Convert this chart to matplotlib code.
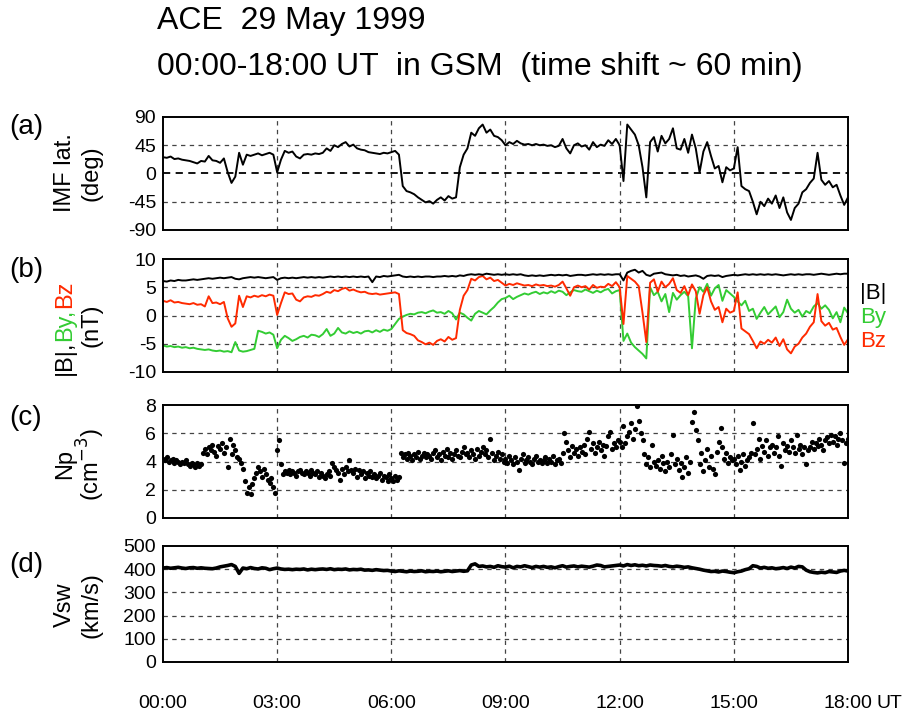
import numpy as np
import matplotlib
matplotlib.use("Agg")
import matplotlib.pyplot as plt
from matplotlib import font_manager

# ---------------- data ----------------
# 0.1 h grid, 00:00 - 18:00 UT
imf_lat = [26,25,27,23,24,22,21,20,18,16,
           20,19,28,21,20,17,24,2,-15,-5,
           33,14,30,28,30,32,29,31,33,30,
           2,22,36,33,35,27,24,30,31,30,
           32,31,33,40,36,45,42,47,50,43,
           46,40,38,37,34,33,32,31,33,32,
           34,36,30,-20,-28,-30,-33,-38,-42,-46,
           -44,-48,-42,-38,-43,-36,-40,-38,10,30,
           40,65,60,72,78,65,70,60,58,53,
           45,50,47,52,48,46,47,45,47,45,
           46,44,45,42,44,55,40,32,45,48,
           43,45,38,50,42,46,44,53,47,55,
           45,-12,78,70,62,45,10,-38,50,58,
           35,60,48,55,72,40,38,55,33,62,
           40,2,35,50,28,8,12,-14,10,5,
           8,42,-20,-25,-28,-45,-65,-45,-52,-40,
           -48,-35,-55,-38,-62,-74,-55,-48,-30,-25,
           -15,-8,33,-10,-18,-12,-22,-18,-35,-50,
           -38]

b_mag = [6.1,6.0,6.2,6.1,6.3,6.2,6.2,6.3,6.4,6.3,
         6.4,6.5,6.6,6.5,6.6,6.7,6.6,6.7,6.8,6.5,
         6.4,6.6,6.7,6.8,6.7,6.8,6.7,6.6,6.7,6.8,
         6.3,6.6,6.7,6.6,6.7,6.6,6.7,6.8,6.7,6.8,
         6.7,6.8,6.7,6.8,6.9,6.8,6.9,6.8,6.9,6.8,
         6.9,6.8,6.9,6.8,6.9,5.9,6.9,6.8,7.0,6.9,
         7.0,7.1,7.2,6.9,6.8,6.9,6.8,6.9,6.8,6.9,
         6.9,6.8,6.9,6.9,7.0,6.9,7.0,6.9,7.1,7.0,
         7.2,7.3,7.2,7.3,7.2,7.4,7.3,7.2,7.3,7.2,
         7.3,7.2,7.3,7.2,7.3,7.1,7.0,7.1,7.0,7.1,
         7.0,7.1,7.2,7.1,7.2,7.1,7.2,7.0,7.1,7.2,
         7.2,7.1,7.2,7.3,7.2,7.3,7.2,7.3,7.2,7.3,
         7.3,6.2,7.6,7.9,8.1,7.6,7.9,7.2,7.0,7.4,
         7.5,7.6,7.3,7.2,7.1,7.2,7.0,7.1,6.9,7.0,
         7.1,6.9,6.5,7.0,7.1,7.0,7.1,6.8,7.0,7.1,
         7.2,7.1,7.2,7.3,7.2,7.3,7.2,7.3,7.2,7.3,
         7.2,7.3,7.2,7.1,7.2,7.3,7.2,7.3,7.2,7.3,
         7.3,7.2,7.3,7.4,7.3,7.2,7.3,7.4,7.3,7.4,
         7.4]

b_y = [-5.3,-5.5,-5.4,-5.6,-5.5,-5.7,-5.6,-5.8,-5.7,-5.9,
       -6.0,-6.1,-6.0,-6.2,-6.3,-6.2,-6.4,-6.3,-6.5,-4.7,
       -6.2,-6.4,-6.3,-6.1,-5.9,-2.7,-2.9,-3.2,-3.0,-3.4,
       -5.8,-4.3,-3.6,-4.0,-4.5,-4.2,-3.8,-3.6,-3.9,-3.4,
       -3.5,-3.8,-3.3,-2.4,-3.6,-3.2,-2.2,-3.0,-3.2,-2.8,
       -3.1,-2.9,-3.2,-2.8,-2.7,-3.0,-2.6,-2.9,-2.5,-2.7,
       -2.4,-1.5,-0.6,-0.2,0.1,0.3,0.2,0.5,0.6,0.4,
       0.7,0.9,0.5,0.6,0.3,0.8,0.4,-0.7,0.5,0.2,
       -0.4,-0.9,0.3,0.8,0.5,0.2,0.9,1.5,2.3,2.9,
       3.1,3.5,2.9,3.3,3.6,3.9,3.7,4.0,4.2,3.8,
       4.1,3.9,4.3,4.0,4.4,4.2,3.6,4.1,4.5,4.3,
       4.2,4.6,4.3,4.0,4.4,4.1,4.5,4.7,3.9,4.3,
       4.5,-4.5,-3.2,-4.8,-5.6,-6.2,-6.8,-7.6,5.0,3.6,
       4.2,2.5,3.8,0.6,4.0,2.8,3.6,4.2,3.4,-5.8,
       3.0,5.0,4.2,5.6,3.5,4.8,5.4,2.6,4.5,3.9,
       3.3,2.5,1.8,2.6,0.8,1.2,-0.6,0.5,1.5,0.2,
       0.9,1.6,-0.3,0.6,2.8,1.2,0.5,1.0,-0.2,0.8,
       0.4,1.6,2.2,1.2,1.8,1.0,-0.5,0.6,-1.2,1.4,
       0.4]

b_z = [2.6,2.4,2.7,2.3,2.4,2.2,2.1,2.0,2.2,1.9,
       2.0,1.6,3.4,2.2,2.3,2.0,2.4,-0.5,-2.0,-1.4,
       3.5,1.5,3.4,3.2,3.5,3.3,3.6,3.4,3.7,3.5,
       0.1,2.2,4.1,3.8,3.9,2.8,2.5,3.2,3.4,3.3,
       3.6,3.5,3.8,4.2,4.0,4.5,4.3,4.7,4.9,4.4,
       4.6,4.3,4.1,4.2,3.9,3.8,3.9,3.7,3.8,3.9,
       4.0,4.1,3.8,-2.6,-3.1,-3.3,-3.6,-4.4,-4.7,-5.1,
       -4.8,-5.2,-4.5,-4.2,-4.6,-3.8,-4.3,-4.0,1.0,3.5,
       4.5,6.5,6.2,6.8,7.0,6.4,6.7,6.1,6.3,5.8,
       5.3,5.6,5.4,5.7,5.5,5.3,5.4,5.2,5.5,5.3,
       5.4,5.2,5.3,5.1,5.4,6.0,4.8,3.5,5.0,5.3,
       5.0,5.2,4.6,5.4,4.9,5.1,5.0,5.6,5.2,5.9,
       5.0,-1.5,7.0,6.5,6.0,5.2,0.5,-4.7,5.8,6.4,
       4.2,6.0,5.0,5.6,6.6,4.5,4.0,5.2,3.6,5.5,
       4.3,0.3,3.6,5.0,2.5,1.0,1.5,-1.2,1.2,0.5,
       0.8,4.1,-2.3,-2.8,-3.3,-4.5,-5.8,-4.6,-5.0,-4.3,
       -4.8,-3.9,-5.4,-4.2,-6.0,-6.7,-5.5,-5.0,-3.9,-3.2,
       -2.0,-1.2,3.8,-1.0,-1.8,-1.3,-2.5,-2.2,-3.8,-5.2,
       -4.2]

# 0.05 h grid
n_p = [4.2,4.1,4.3,4.0,4.1,4.2,3.9,4.1,4.0,3.8,4.0,3.9,4.1,3.8,3.7,3.9,3.8,3.6,3.9,3.7,
       3.8,4.6,4.9,4.5,5.0,4.8,5.2,4.7,4.4,5.1,4.9,5.3,4.6,5.0,3.6,5.6,4.5,5.2,4.8,4.3,
       4.2,3.9,3.5,2.6,1.8,2.2,1.7,2.4,2.8,3.2,3.6,3.3,2.9,3.5,3.1,2.7,2.5,2.8,2.2,1.8,
       4.8,5.5,3.8,3.1,3.3,3.2,3.4,3.1,3.3,3.2,3.0,3.3,3.4,3.2,3.1,3.3,3.2,3.0,3.4,3.2,
       3.1,3.3,2.9,3.2,3.0,2.8,3.1,3.3,3.0,3.9,3.6,3.4,3.2,2.7,3.5,3.1,3.6,3.3,4.1,3.4,
       3.2,3.5,2.9,3.4,3.1,3.3,2.8,3.2,3.0,3.3,2.9,3.1,2.8,3.0,3.2,2.7,3.0,2.9,2.6,3.1,
       2.8,2.6,3.0,2.7,2.9,4.6,4.3,4.5,4.2,4.6,4.4,4.1,4.5,4.3,4.7,4.2,4.4,4.6,4.3,4.5,
       4.4,4.2,4.6,4.8,4.3,4.5,4.1,4.7,4.4,4.9,4.3,4.6,4.2,4.5,4.8,4.4,4.3,4.7,5.0,4.5,
       4.6,4.3,4.8,4.5,4.2,4.9,4.4,4.7,5.0,4.5,4.8,4.3,5.6,4.6,4.1,4.4,4.7,4.2,4.5,4.0,
       4.2,3.9,4.4,4.1,3.8,4.3,4.0,3.4,4.2,4.5,3.9,4.1,4.3,4.0,3.8,4.2,4.4,4.0,4.1,3.9,
       4.1,4.3,3.9,4.2,4.0,4.4,3.8,4.1,4.2,3.9,4.6,6.0,5.4,4.8,4.3,5.1,4.6,4.9,4.4,5.0,
       4.7,5.2,4.5,5.6,6.1,4.9,5.3,4.6,5.0,5.4,4.8,5.2,4.4,5.1,5.8,6.1,4.9,5.3,5.0,5.5,
       5.4,5.0,6.5,5.3,5.8,6.1,6.7,5.6,6.3,7.9,6.9,6.0,5.5,4.5,3.8,4.3,3.6,5.2,4.0,3.7,
       4.1,3.5,4.4,3.9,3.3,4.0,3.6,4.5,5.9,3.8,4.2,3.4,3.9,2.9,3.6,4.3,3.2,4.0,6.8,7.5,
       6.2,5.5,3.8,4.6,3.3,4.1,4.9,3.6,4.4,3.5,3.1,4.7,5.4,6.4,5.0,4.2,4.6,3.9,4.3,4.1,
       4.2,3.8,4.4,3.4,4.0,4.5,3.7,4.1,4.3,4.6,6.7,4.5,4.9,5.6,4.2,5.1,4.7,5.5,4.4,5.0,
       5.2,4.6,5.0,5.8,4.4,3.7,5.3,4.8,5.1,4.7,5.5,5.0,4.6,5.9,4.9,5.2,4.5,5.0,3.8,4.8,
       5.0,5.4,4.9,5.3,5.1,5.6,5.2,4.8,5.5,5.7,5.3,5.9,5.4,5.8,5.2,5.6,6.0,5.5,3.9,5.3,
       5.6]

# 0.1 h grid
v_sw = [405,407,404,406,408,405,403,406,407,404,
        406,404,403,402,405,410,413,416,420,412,
        382,405,402,407,403,401,406,404,398,402,
        405,401,399,400,398,400,399,401,397,400,
        398,400,401,399,402,398,400,399,401,397,
        399,398,400,396,397,395,398,396,394,395,
        392,390,393,391,389,392,390,391,393,389,
        391,390,392,389,391,393,390,392,394,391,
        393,418,423,412,414,410,412,408,415,411,
        409,413,406,412,410,415,411,407,412,409,
        412,408,410,406,411,415,409,412,414,410,
        413,411,409,413,418,416,410,412,414,416,
        418,414,420,416,419,415,417,414,418,416,
        415,413,416,412,410,413,411,408,410,406,
        403,400,396,393,390,391,388,392,390,387,
        385,389,392,398,402,415,412,405,408,404,
        406,402,404,407,403,409,405,412,410,396,
        389,386,384,387,385,390,388,386,392,395,
        392]

x_ticks = [0, 3, 6, 9, 12, 15, 18]
x_ticklabels = ["00:00", "03:00", "06:00", "09:00", "12:00", "15:00", "18:00"]

t10 = np.arange(len(imf_lat)) * 0.1
t20 = np.arange(len(n_p)) * 0.05

# ---------------- fonts ----------------
names = {f.name for f in font_manager.fontManager.ttflist}
FONT = "Liberation Sans" if "Liberation Sans" in names else "DejaVu Sans"
plt.rcParams["font.family"] = [FONT, "DejaVu Sans"]
plt.rcParams["axes.unicode_minus"] = False

W, H = 909, 713
fig = plt.figure(figsize=(W / 100, H / 100), dpi=100)

def fx(px):
    return px / W

def fy(py):
    return 1 - py / H

L, R = 163, 848
panels = [(117, 230), (259, 372), (405, 518), (546, 662)]
axes = []
for top, bot in panels:
    ax = fig.add_axes([fx(L), fy(bot), fx(R) - fx(L), (bot - top) / H])
    axes.append(ax)

GREEN = "#33cc33"
RED = "#ff2a00"
TICK_FS = 14
GRID_KW = dict(color="#444444", lw=0.9, ls=(0, (3.5, 3.5)))

def style(ax, ylim, yticks, grid_y):
    ax.set_xlim(0, 18)
    ax.set_ylim(*ylim)
    ax.set_yticks(yticks)
    ax.set_xticks(x_ticks)
    ax.tick_params(length=0, labelsize=TICK_FS, pad=5)
    ax.set_xticklabels([])
    for x in x_ticks[1:-1]:
        ax.axvline(x, **GRID_KW, zorder=0)
    for y in grid_y:
        ax.axhline(y, **GRID_KW, zorder=0)
    for s in ax.spines.values():
        s.set_linewidth(1.4)

# (a)
ax = axes[0]
style(ax, (-90, 90), [90, 45, 0, -45, -90], [45, -45])
ax.axhline(0, color="black", lw=1.3, ls=(0, (4, 3)), zorder=0)
ax.plot(t10, imf_lat, color="black", lw=1.4)

# (b)
ax = axes[1]
style(ax, (-10, 10), [10, 5, 0, -5, -10], [5, 0, -5])
ax.plot(t10, b_y, color=GREEN, lw=1.4)
ax.plot(t10, b_z, color=RED, lw=1.4)
ax.plot(t10, b_mag, color="black", lw=1.4)

# (c)
ax = axes[2]
style(ax, (0, 8), [8, 6, 4, 2, 0], [6, 4, 2])
ax.scatter(t20, n_p, s=14, color="black", linewidths=0)

# (d)
ax = axes[3]
style(ax, (0, 500), [500, 400, 300, 200, 100, 0], [400, 300, 200, 100])
ax.plot(t10, v_sw, color="black", lw=2.6)
ax.set_xticklabels(x_ticklabels)
ax.tick_params(axis="x", pad=24)

# titles
TITLE_FS = 23
fig.text(fx(157), fy(21), "ACE  29 May 1999", fontsize=TITLE_FS, va="center", ha="left")
fig.text(fx(157), fy(67), "00:00-18:00 UT  in GSM  (time shift ~ 60 min)", fontsize=TITLE_FS,
         va="center", ha="left")

# panel letters
for lab, yc in zip(["(a)", "(b)", "(c)", "(d)"], [127, 270, 418, 565]):
    fig.text(fx(9), fy(yc), lab, fontsize=20, va="center", ha="left")

# y labels (two lines, rotated)
YL_FS = 17
X1, X2 = 65, 91
ylab = [("IMF lat.", "(deg)", 173), (None, "(nT)", 325), ("Np", "(cm$^{-3}$)", 464), ("Vsw", "(km/s)", 605)]
for l1, l2, yc in ylab:
    if l1:
        fig.text(fx(X1), fy(yc), l1, fontsize=YL_FS, rotation=90, va="center", ha="center")
    fig.text(fx(X2), fy(yc), l2, fontsize=YL_FS, rotation=90, va="center", ha="center")

# multicoloured |B|,By,Bz label
fig.canvas.draw()
rend = fig.canvas.get_renderer()
pieces = [("|B|,", "black"), ("By,", GREEN), ("Bz", RED)]
tmp = [fig.text(0, 0, p, fontsize=YL_FS, rotation=90) for p, _ in pieces]
heights = [t.get_window_extent(rend).height for t in tmp]
for t in tmp:
    t.remove()
total = sum(heights)
cur = (H - 328) - total / 2  # pixel from bottom
for (p, c), h in zip(pieces, heights):
    fig.text(fx(X1), cur / H, p, fontsize=YL_FS, rotation=90, va="bottom", ha="center", color=c)
    cur += h

# legend text on the right of (b)
for lab, c, yc in [("|B|", "black", 294), ("By", GREEN, 318), ("Bz", RED, 342)]:
    fig.text(fx(860), fy(yc), lab, fontsize=16, color=c, va="center", ha="left")

# UT after last tick label
fig.text(fx(877), fy(703), "UT", fontsize=TICK_FS, va="center", ha="left")

fig.savefig("out.png", dpi=100)
